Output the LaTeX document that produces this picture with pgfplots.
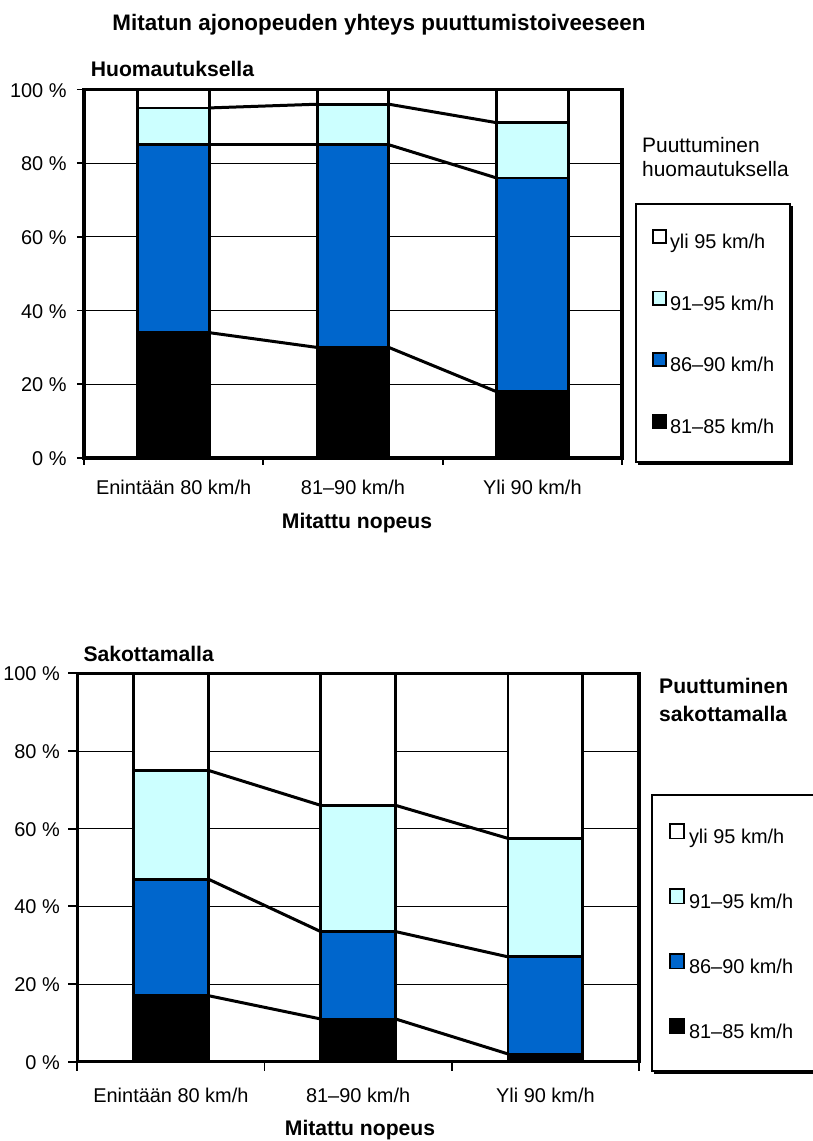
\documentclass[border=0pt]{standalone}
\usepackage{pgfplots}
\pgfplotsset{compat=1.18}
\usepackage{fontspec}
\setmainfont{Liberation Sans}

\definecolor{segblue}{HTML}{0066CC}
\definecolor{segcyan}{HTML}{CCFFFF}

\newcommand{\txt}{\fontsize{20}{23}\selectfont}
\newcommand{\ltxt}{\fontsize{21}{24}\selectfont}
\newcommand{\btxt}{\fontsize{21.2}{24}\selectfont\bfseries}

\pgfplotsset{
  speedframe/.style={
    scale only axis,
    xmin=-0.5, xmax=2.5, ymin=0, ymax=100,
    enlargelimits=false,
  },
  speedbars/.style={
    speedframe,
    ybar stacked, bar width=0.4,
    axis line style={line width=3.2bp},
    tick pos=left, tick align=outside,
    xtick={-0.5,0.5,1.5,2.5},
    xticklabels={},
    extra x ticks={0,1,2},
    extra x tick labels={Enintään 80 km/h, 81–90 km/h, Yli 90 km/h},
    extra x tick style={major tick length=0pt, grid=none},
    ytick={0,20,40,60,80,100},
    yticklabels={0 \%,20 \%,40 \%,60 \%,80 \%,100 \%},
    ymajorgrids,
    grid style={black, line width=0.9bp},
    tick style={black, line width=1.8bp},
    major tick length=7bp,
    ticklabel style={font=\txt, inner sep=0pt},
    legend cell align=left,
    reverse legend,
  },
  seg/.style={draw=black, line width=2.8bp},
  segline/.style={black, line width=3bp},
}

\begin{document}
\begin{tikzpicture}
\path[use as bounding box] (0,0) rectangle (813bp,1141bp);

% ---------- Huomautuksella ----------
\begin{axis}[
  speedbars,
  at={(84bp,683bp)}, anchor=south west,
  width=538bp, height=368.5bp,
  xticklabel style={anchor=base, yshift=-37bp},
  yticklabel style={anchor=base east, xshift=-10.3bp, yshift=-7.6bp},
  legend style={at={(1.0242,0.692)}, anchor=north west, name=legtop,
    draw=black, line width=2bp, fill=white,
    inner xsep=16bp, inner ysep=25bp, row sep=38.1bp, column sep=3bp,
    font=\txt,
    nodes={inner sep=0pt, text height=14bp, text depth=4bp}},
  legend image code/.code={\draw[#1, line width=1.8bp] (0.9bp,0.4bp) rectangle (14.1bp,13.6bp);},
]
\addplot[fill=black, seg] coordinates {(0,34) (1,30) (2,18)};
\addplot[fill=segblue, seg] coordinates {(0,51) (1,55) (2,58)};
\addplot[fill=segcyan, seg] coordinates {(0,10) (1,11) (2,15)};
\addplot[fill=white, seg] coordinates {(0,5) (1,4) (2,9)};
\legend{81–85 km/h, 86–90 km/h, 91–95 km/h, yli 95 km/h}
\end{axis}

% series lines joining the segment tops
\begin{axis}[speedframe, hide axis, clip=false,
  at={(84bp,683bp)}, anchor=south west, width=538bp, height=368.5bp]
\addplot[segline] coordinates {(0.2,34) (0.8,30)};
\addplot[segline] coordinates {(1.2,30) (1.8,18)};
\addplot[segline] coordinates {(0.2,85) (0.8,85)};
\addplot[segline] coordinates {(1.2,85) (1.8,76)};
\addplot[segline] coordinates {(0.2,95) (0.8,96)};
\addplot[segline] coordinates {(1.2,96) (1.8,91)};
\end{axis}

% ---------- Sakottamalla ----------
\begin{axis}[
  speedbars,
  at={(77.3bp,79.3bp)}, anchor=south west,
  width=561.7bp, height=388.4bp,
  major tick length=9bp,
  xticklabel style={anchor=base, yshift=-41bp},
  yticklabel style={anchor=base east, xshift=-8.3bp, yshift=-7.6bp},
  legend style={at={(1.0214,0.6867)}, anchor=north west, name=legbottom,
    draw=none, line width=2bp, fill=white,
    inner xsep=17bp, inner ysep=27bp, row sep=40bp, column sep=4bp,
    font=\txt,
    nodes={inner sep=0pt, text height=14bp, text depth=4bp}},
  legend image code/.code={\draw[#1, line width=1.8bp] (0.9bp,0.4bp) rectangle (15.1bp,15.1bp);},
]
\addplot[fill=black, seg] coordinates {(0,17) (1,11) (2,2)};
\addplot[fill=segblue, seg] coordinates {(0,30) (1,22.5) (2,25)};
\addplot[fill=segcyan, seg] coordinates {(0,28) (1,32.5) (2,30.5)};
\addplot[fill=white, seg] coordinates {(0,25) (1,34) (2,42.5)};
\legend{81–85 km/h, 86–90 km/h, 91–95 km/h, yli 95 km/h}
\end{axis}

\begin{axis}[speedframe, hide axis, clip=false,
  at={(77.3bp,79.3bp)}, anchor=south west, width=561.7bp, height=388.4bp]
\addplot[segline] coordinates {(0.2,17) (0.8,11)};
\addplot[segline] coordinates {(1.2,11) (1.8,2)};
\addplot[segline] coordinates {(0.2,47) (0.8,33.5)};
\addplot[segline] coordinates {(1.2,33.5) (1.8,27)};
\addplot[segline] coordinates {(0.2,75) (0.8,66)};
\addplot[segline] coordinates {(1.2,66) (1.8,57.5)};
\end{axis}

% legend frames with their shadow edges (the lower frame runs on past the page edge)
\draw[line width=2.2bp] ([xshift=3bp,yshift=-1bp]legtop.south west) -| ([xshift=1bp,yshift=-3bp]legtop.north east);
\draw[line width=2bp] (860bp,0 |- legbottom.north west) -- ([xshift=1bp]legbottom.north west)
  -- ([xshift=1bp]legbottom.south west) -- (860bp,0 |- legbottom.south west);
\draw[line width=2.2bp] ([xshift=3bp,yshift=-2bp]legbottom.south west) -- ++(250bp,0);

% titles and labels
\node[anchor=base, font=\fontsize{22.5}{26}\selectfont\bfseries] at (379bp,1110.3bp)
  {Mitatun ajonopeuden yhteys puuttumistoiveeseen};
\node[anchor=base west, inner sep=0pt, font=\btxt] at (90.7bp,1064.3bp) {Huomautuksella};
\node[anchor=base, inner sep=0pt, font=\btxt] at (357bp,612bp) {Mitattu nopeus};
\node[anchor=base west, inner sep=0pt, font=\ltxt] at (642bp,988.7bp) {Puuttuminen};
\node[anchor=base west, inner sep=0pt, font=\ltxt] at (642bp,964.3bp) {huomautuksella};

\node[anchor=base west, inner sep=0pt, font=\btxt] at (83.3bp,479.3bp) {Sakottamalla};
\node[anchor=base, inner sep=0pt, font=\btxt] at (360bp,5.3bp) {Mitattu nopeus};
\node[anchor=base west, inner sep=0pt, font=\btxt] at (659bp,447bp) {Puuttuminen};
\node[anchor=base west, inner sep=0pt, font=\btxt] at (659bp,419.3bp) {sakottamalla};
\end{tikzpicture}
\end{document}
